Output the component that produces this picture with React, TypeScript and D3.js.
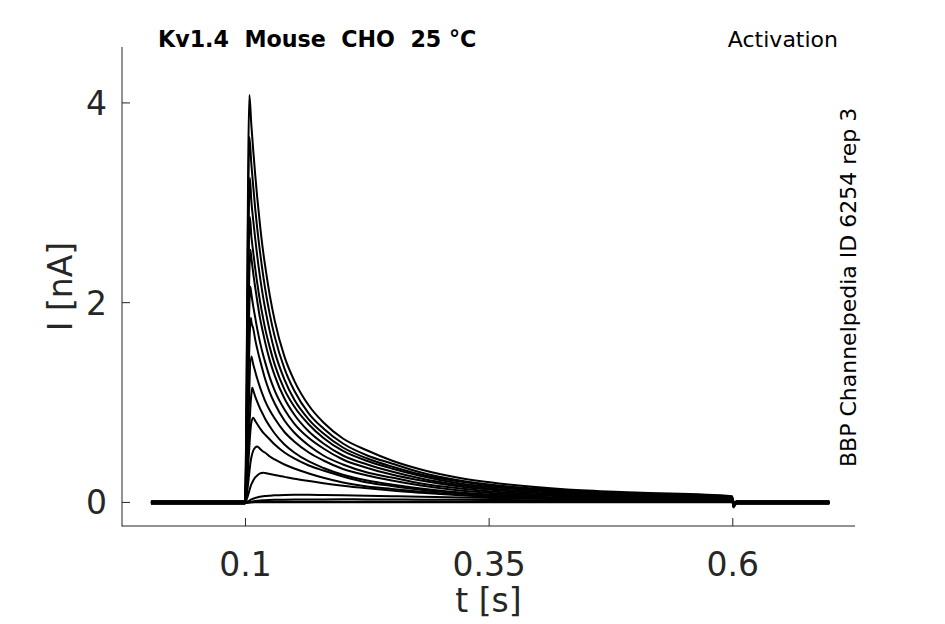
import React from 'react';
import * as d3 from 'd3';

// ---- data ----
const xTicks = [0.1, 0.35, 0.6];
const xTickLabels = ['0.1', '0.35', '0.6'];
const yTicks = [0, 2, 4];
const yTickLabels = ['0', '2', '4'];

const startTime = 0.003;
const stepOnTime = 0.0995;
const offTime = 0.6005;
const settleTime = 0.604;
const endTime = 0.699;

const decayTimes = [0.106, 0.108, 0.11, 0.112, 0.115, 0.118, 0.12, 0.125, 0.13, 0.14, 0.15, 0.165, 0.18, 0.2, 0.225, 0.25, 0.28, 0.32, 0.37, 0.43, 0.5, 0.5995];

const peakTimes = [0.104, 0.104, 0.1045, 0.1045, 0.105, 0.105, 0.1055, 0.106, 0.107, 0.108, 0.112, 0.118, 0.15, 0.2, 0.2, 0.2];
const peakValues = [4.08, 3.66, 3.25, 2.86, 2.53, 2.16, 1.85, 1.46, 1.149, 0.848, 0.561, 0.298, 0.077, 0.031, 0.008, 0.003];
const holdingLevels = [0.01, -0.006, 0.004, 0.0, -0.01, 0.012, 0.002, -0.003, 0.007, -0.012, 0.005, 0.0, -0.004, 0.009, -0.007, 0.001];
const offDip = [-0.05, -0.045, -0.04, -0.035, -0.03, -0.028, -0.025, -0.02, -0.015, -0.012, -0.01, -0.006, -0.003, -0.002, 0, 0];

const sweep01 = [3.78, 3.52, 3.28, 3.06, 2.77, 2.52, 2.38, 2.07, 1.82, 1.46, 1.22, 0.97, 0.8, 0.64, 0.52, 0.42, 0.33, 0.245, 0.18, 0.13, 0.1, 0.063];
const sweep02 = [3.39, 3.16, 2.94, 2.75, 2.5, 2.28, 2.15, 1.88, 1.66, 1.34, 1.12, 0.89, 0.74, 0.59, 0.47, 0.39, 0.3, 0.22, 0.16, 0.12, 0.09, 0.055];
const sweep03 = [3.02, 2.82, 2.64, 2.47, 2.25, 2.06, 1.95, 1.71, 1.51, 1.23, 1.03, 0.83, 0.69, 0.55, 0.44, 0.36, 0.28, 0.21, 0.15, 0.11, 0.083, 0.05];
const sweep04 = [2.67, 2.5, 2.34, 2.2, 2.01, 1.85, 1.75, 1.55, 1.38, 1.13, 0.96, 0.78, 0.645, 0.515, 0.415, 0.34, 0.265, 0.19, 0.14, 0.1, 0.074, 0.044];
const sweep05 = [2.45, 2.29, 2.15, 2.02, 1.84, 1.7, 1.61, 1.42, 1.27, 1.04, 0.88, 0.71, 0.59, 0.47, 0.38, 0.31, 0.24, 0.175, 0.125, 0.09, 0.067, 0.039];
const sweep06 = [2.09, 1.96, 1.85, 1.74, 1.6, 1.48, 1.41, 1.25, 1.12, 0.93, 0.79, 0.645, 0.54, 0.43, 0.345, 0.28, 0.22, 0.16, 0.113, 0.08, 0.058, 0.034];
const sweep07 = [1.81, 1.74, 1.63, 1.54, 1.42, 1.31, 1.24, 1.1, 0.99, 0.82, 0.7, 0.57, 0.47, 0.38, 0.3, 0.25, 0.19, 0.14, 0.098, 0.069, 0.05, 0.029];
const sweep08 = [1.46, 1.38, 1.31, 1.24, 1.15, 1.07, 1.02, 0.92, 0.84, 0.705, 0.61, 0.5, 0.42, 0.335, 0.27, 0.22, 0.17, 0.12, 0.085, 0.06, 0.043, 0.024];
const sweep09 = [1.08, 1.12, 1.06, 1.01, 0.94, 0.88, 0.84, 0.76, 0.69, 0.58, 0.5, 0.41, 0.345, 0.277, 0.22, 0.18, 0.14, 0.1, 0.07, 0.048, 0.034, 0.019];
const sweep10 = [0.8, 0.848, 0.815, 0.785, 0.74, 0.7, 0.68, 0.63, 0.58, 0.5, 0.44, 0.37, 0.32, 0.26, 0.2, 0.165, 0.128, 0.092, 0.062, 0.04, 0.026, 0.016];
const sweep11 = [0.45, 0.52, 0.55, 0.561, 0.535, 0.51, 0.5, 0.46, 0.43, 0.38, 0.34, 0.29, 0.247, 0.2, 0.16, 0.135, 0.108, 0.078, 0.052, 0.033, 0.022, 0.014];
const sweep12 = [0.18, 0.22, 0.25, 0.27, 0.29, 0.298, 0.294, 0.284, 0.274, 0.256, 0.238, 0.215, 0.193, 0.168, 0.142, 0.119, 0.097, 0.072, 0.05, 0.034, 0.024, 0.014];
const sweep13 = [0.03, 0.038, 0.045, 0.05, 0.056, 0.061, 0.064, 0.068, 0.071, 0.075, 0.077, 0.076, 0.074, 0.071, 0.067, 0.063, 0.058, 0.05, 0.042, 0.034, 0.026, 0.018];
const sweep14 = [0.008, 0.011, 0.014, 0.016, 0.019, 0.021, 0.022, 0.024, 0.026, 0.028, 0.029, 0.03, 0.03, 0.031, 0.03, 0.029, 0.028, 0.026, 0.024, 0.021, 0.018, 0.014];
const sweep15 = [0.002, 0.003, 0.004, 0.004, 0.005, 0.005, 0.006, 0.006, 0.007, 0.007, 0.007, 0.008, 0.008, 0.008, 0.008, 0.008, 0.007, 0.007, 0.006, 0.006, 0.005, 0.004];
const sweep16 = [0.001, 0.001, 0.002, 0.002, 0.002, 0.002, 0.002, 0.003, 0.003, 0.003, 0.003, 0.003, 0.003, 0.003, 0.003, 0.003, 0.003, 0.002, 0.002, 0.002, 0.002, 0.001];

const sweeps = [sweep01, sweep02, sweep03, sweep04, sweep05, sweep06, sweep07, sweep08, sweep09, sweep10, sweep11, sweep12, sweep13, sweep14, sweep15, sweep16];

const titleText = 'Kv1.4\u00a0\u00a0Mouse\u00a0\u00a0CHO\u00a0\u00a025 \u00b0C';
const protocolText = 'Activation';
const sourceText = 'BBP Channelpedia ID 6254 rep 3';
const xLabel = 't [s]';
const yLabel = 'I [nA]';

// ---- layout ----
const W = 945;
const H = 624;
const left = 122;
const right = 855;
const top = 47;
const bottom = 526;
const font = 'DejaVu Sans, Verdana, sans-serif';
const axisColor = '#262626';

export default function App() {
  const x = d3.scaleLinear().domain([-0.0267, 0.7254]).range([left, right]);
  const y = d3.scaleLinear().domain([-0.236, 4.56]).range([bottom, top]);

  const line = d3
    .line<[number, number]>()
    .x((d) => x(d[0]))
    .y((d) => y(d[1]))
    .curve(d3.curveMonotoneX);

  const paths = sweeps.map((vals, i) => {
    const h = holdingLevels[i];
    const tp = peakTimes[i];
    const pts: [number, number][] = [];
    decayTimes.forEach((t, j) => {
      if (Math.abs(t - tp) < 1e-7) return;
      pts.push([t, vals[j]]);
    });
    pts.push([tp, peakValues[i]]);
    pts.sort((a, b) => a[0] - b[0]);
    const all: [number, number][] = [
      [startTime, h],
      [stepOnTime, h],
      ...pts,
      [offTime, h + offDip[i]],
      [settleTime, h],
      [endTime, h],
    ];
    return line(all) as string;
  });

  return (
    <svg
      width={W}
      height={H}
      style={{ position: 'absolute', left: 0, top: 0, background: '#fff' }}
      fontFamily={font}
    >
      <rect x={0} y={0} width={W} height={H} fill="#fff" />
      {/* traces */}
      <g fill="none" stroke="#000" strokeWidth={2} strokeLinejoin="round">
        {paths.map((d, i) => (
          <path key={i} d={d} />
        ))}
      </g>
      {/* axes */}
      <g stroke={axisColor} strokeWidth={1} fill="none">
        <line x1={left} y1={top} x2={left} y2={bottom + 0.5} />
        <line x1={left} y1={bottom} x2={right} y2={bottom} />
        {xTicks.map((t) => (
          <line key={'xt' + t} x1={x(t)} x2={x(t)} y1={bottom} y2={bottom - 8} />
        ))}
        {yTicks.map((t) => (
          <line key={'yt' + t} x1={left} x2={left + 8} y1={y(t)} y2={y(t)} />
        ))}
      </g>
      <g fill={axisColor} fontSize={33}>
        {xTicks.map((t, i) => (
          <text key={'xl' + t} x={x(t)} y={576} textAnchor="middle">
            {xTickLabels[i]}
          </text>
        ))}
        {yTicks.map((t, i) => (
          <text key={'yl' + t} x={107} y={y(t) + 12} textAnchor="end">
            {yTickLabels[i]}
          </text>
        ))}
        <text x={(left + right) / 2} y={612} textAnchor="middle">
          {xLabel}
        </text>
        <text transform={`translate(72, ${(top + bottom) / 2}) rotate(-90)`} textAnchor="middle">
          {yLabel}
        </text>
      </g>
      <text x={158} y={47} fontSize={22.2} fontWeight="bold" fill="#000">
        {titleText}
      </text>
      <text x={838} y={47} fontSize={22} textAnchor="end" fill="#000">
        {protocolText}
      </text>
      <text transform="translate(856, 467) rotate(-90)" fontSize={22} fill="#000">
        {sourceText}
      </text>
    </svg>
  );
}
